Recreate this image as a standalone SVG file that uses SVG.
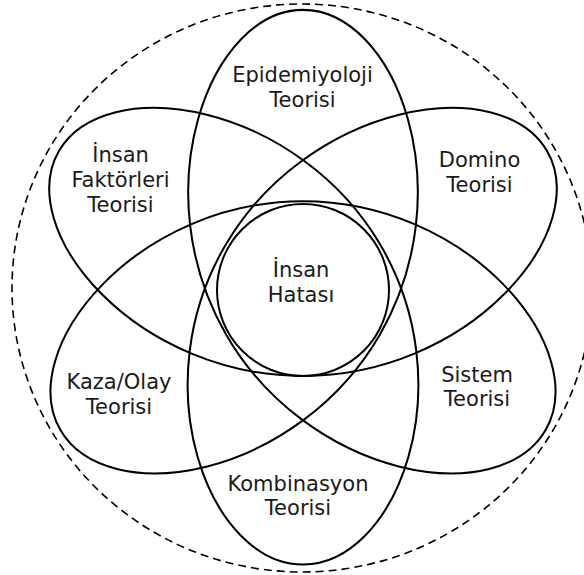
<svg xmlns="http://www.w3.org/2000/svg" width="584" height="575" viewBox="0 0 584 575">
<style>
.ln{fill:none;stroke:#000;stroke-width:2;stroke-linejoin:round}
.ds{fill:none;stroke:#000;stroke-width:1.6;stroke-dasharray:8 5}
.lb{font-family:"DejaVu Sans",Verdana,sans-serif;font-size:21px;fill:#1a1a1a;text-anchor:middle}
</style>
<defs>
<path id="trefoil" d="M 0 87.5 C 37.9 87.5 75.7 79.5 109.8 64.9 C 143.9 50.3 174.3 29.3 197.6 5.3 C 220.9 -18.7 237.2 -45.4 244.4 -70.6 C 251.6 -95.8 249.7 -119.5 239.0 -138.0 C 228.3 -156.5 208.8 -169.9 183.4 -176.3 C 158.0 -182.7 126.7 -182.0 94.3 -173.8 C 61.9 -165.6 28.4 -149.7 -1.3 -127.5 C -31.0 -105.3 -56.9 -76.6 -75.8 -43.8 C -94.7 -11.0 -106.7 25.8 -111.1 62.6 C -115.5 99.4 -112.4 136.3 -103.3 168.5 C -94.2 200.7 -79.2 228.1 -61.0 247.0 C -42.8 265.9 -21.4 276.0 0 276.0 C 21.4 276.0 42.8 265.9 61.0 247.0 C 79.2 228.1 94.2 200.7 103.3 168.5 C 112.4 136.3 115.5 99.4 111.1 62.6 C 106.7 25.8 94.7 -11.0 75.8 -43.8 C 56.9 -76.6 31.0 -105.3 1.3 -127.5 C -28.4 -149.7 -61.9 -165.6 -94.3 -173.8 C -126.7 -182.0 -158.0 -182.7 -183.4 -176.3 C -208.8 -169.9 -228.3 -156.5 -239.0 -138.0 C -249.7 -119.5 -251.6 -95.8 -244.4 -70.6 C -237.2 -45.4 -220.9 -18.7 -197.6 5.3 C -174.3 29.3 -143.9 50.3 -109.8 64.9 C -75.7 79.5 -37.9 87.5 0 87.5 Z"/>
</defs>
<rect width="584" height="575" fill="#fff"/>
<g id="outer-boundary"><ellipse class="ds" cx="302" cy="288" rx="290" ry="284"/></g>
<g id="trefoil-insan-domino-kombinasyon"><use href="#trefoil" class="ln" transform="translate(303,288.5) scale(1.02,1)"/></g>
<g id="trefoil-epidemiyoloji-kaza-sistem"><use href="#trefoil" class="ln" transform="translate(303,290) scale(1.015,-1.015)"/></g>
<g id="insan-hatasi">
<circle class="ln" cx="303" cy="290" r="86"/>
<text class="lb"><tspan x="301" y="277">İnsan</tspan><tspan x="301" y="302">Hatası</tspan></text>
</g>
<g id="epidemiyoloji"><text class="lb"><tspan x="302.5" y="82">Epidemiyoloji</tspan><tspan x="302.5" y="107">Teorisi</tspan></text></g>
<g id="insan-faktorleri"><text class="lb"><tspan x="120.5" y="162">İnsan</tspan><tspan x="120.5" y="187">Faktörleri</tspan><tspan x="120.5" y="212">Teorisi</tspan></text></g>
<g id="domino"><text class="lb"><tspan x="479.5" y="167">Domino</tspan><tspan x="479.5" y="192">Teorisi</tspan></text></g>
<g id="kaza-olay"><text class="lb"><tspan x="119" y="389">Kaza/Olay</tspan><tspan x="119" y="414">Teorisi</tspan></text></g>
<g id="sistem"><text class="lb"><tspan x="477" y="382">Sistem</tspan><tspan x="477" y="406">Teorisi</tspan></text></g>
<g id="kombinasyon"><text class="lb"><tspan x="298" y="491">Kombinasyon</tspan><tspan x="298" y="515">Teorisi</tspan></text></g>
</svg>
